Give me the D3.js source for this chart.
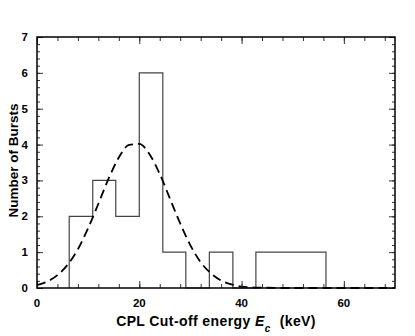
<!DOCTYPE html>
<meta charset="utf-8">
<style>
  body { margin: 0; background: #fff; }
  text { font-family: "Liberation Sans", Arial, sans-serif; font-weight: bold; fill: #000; }
</style>
<body>
<script src="https://d3js.org/d3.v7.min.js"></script>
<script>

// histogram bin edges (keV) and counts per bin
var binEdges = [6.3, 10.9, 15.4, 20.0, 24.6, 29.1, 33.7, 38.3, 42.8, 47.4, 52.0, 56.5];
var binCounts = [2, 3, 2, 6, 1, 0, 1, 0, 1, 1, 1];

// dashed fit curve
var fitE = [0, 2, 4, 6, 8, 10, 12, 14, 16, 18, 20, 22, 24, 26, 28, 30, 32, 34, 36, 38, 40, 42, 44, 48, 55, 70];
var fitN = [0.08, 0.18, 0.36, 0.65, 1.08, 1.67, 2.35, 3.05, 3.64, 3.99, 4.02, 3.73, 3.18, 2.49, 1.80, 1.19, 0.72, 0.41, 0.21, 0.10, 0.04, 0.02, 0.01, 0.0, 0.0, 0.0];

var xTicks = [0, 20, 40, 60];
var yTicks = [0, 1, 2, 3, 4, 5, 6, 7];

var margin = {top: 37, right: 20, bottom: 48, left: 37},
    width = 415 - margin.left - margin.right,
    height = 336 - margin.top - margin.bottom;

var x = d3.scaleLinear().domain([0, 70]).range([0, width]);
var y = d3.scaleLinear().domain([0, 7]).range([height, 0]);

var svg = d3.select("body").append("svg")
    .attr("width", 415)
    .attr("height", 336)
  .append("g")
    .attr("transform", "translate(" + margin.left + "," + margin.top + ")");

// histogram as a step outline
var pts = [];
binCounts.forEach(function(c, i) {
  pts.push([binEdges[i], i == 0 ? 0 : binCounts[i - 1]]);
  pts.push([binEdges[i], c]);
  pts.push([binEdges[i + 1], c]);
});
pts.push([binEdges[binEdges.length - 1], 0]);

svg.append("path")
    .datum(pts)
    .attr("fill", "none")
    .attr("stroke", "#444")
    .attr("stroke-width", 1.2)
    .attr("d", d3.line().x(function(d) { return x(d[0]); }).y(function(d) { return y(d[1]); }));

// dashed fit
svg.append("path")
    .datum(fitE.map(function(e, i) { return [e, fitN[i]]; }))
    .attr("fill", "none")
    .attr("stroke", "#000")
    .attr("stroke-width", 1.8)
    .attr("stroke-dasharray", "9,5")
    .attr("d", d3.line().curve(d3.curveMonotoneX)
        .x(function(d) { return x(d[0]); }).y(function(d) { return y(d[1]); }));

// frame with inward ticks on all sides
var xMinor = d3.range(0, 70.1, 4), yMinor = d3.range(0, 7.01, 0.2);

svg.append("g").attr("transform", "translate(0," + height + ")")
    .call(d3.axisTop(x).tickValues(xMinor).tickSize(4).tickFormat(""));
svg.append("g").attr("transform", "translate(0," + height + ")")
    .call(d3.axisTop(x).tickValues(xTicks).tickSize(7).tickFormat(""));
svg.append("g")
    .call(d3.axisBottom(x).tickValues(xMinor).tickSize(4).tickFormat(""));
svg.append("g")
    .call(d3.axisBottom(x).tickValues(xTicks).tickSize(7).tickFormat(""));
svg.append("g")
    .call(d3.axisRight(y).tickValues(yMinor).tickSize(3).tickFormat(""));
svg.append("g")
    .call(d3.axisRight(y).tickValues(yTicks).tickSize(6).tickFormat(""));
svg.append("g").attr("transform", "translate(" + width + ",0)")
    .call(d3.axisLeft(y).tickValues(yMinor).tickSize(3).tickFormat(""));
svg.append("g").attr("transform", "translate(" + width + ",0)")
    .call(d3.axisLeft(y).tickValues(yTicks).tickSize(6).tickFormat(""));

svg.selectAll(".domain").remove();
svg.selectAll(".tick line").attr("stroke", "#333").attr("stroke-width", 1);

svg.append("rect")
    .attr("width", width).attr("height", height)
    .attr("fill", "none").attr("stroke", "#000").attr("stroke-width", 1.5);

// tick labels
svg.selectAll(".xl").data(xTicks).enter().append("text")
    .attr("x", function(d) { return x(d); })
    .attr("y", height + 19)
    .attr("text-anchor", "middle")
    .style("font-size", "11.5px")
    .text(function(d) { return d; });

svg.selectAll(".yl").data(yTicks).enter().append("text")
    .attr("x", -9)
    .attr("y", function(d) { return y(d) + 4; })
    .attr("text-anchor", "end")
    .style("font-size", "11.5px")
    .text(function(d) { return d; });

// axis titles
var xt = svg.append("text")
    .attr("x", width / 2)
    .attr("y", height + 38)
    .attr("text-anchor", "middle")
    .style("font-size", "14px")
    .style("letter-spacing", "0.4px");
xt.append("tspan").text("CPL Cut-off energy ");
xt.append("tspan").style("font-style", "italic").text("E");
xt.append("tspan").style("font-style", "italic").style("font-size", "10px").attr("dy", 6).text("c");
xt.append("tspan").attr("dy", -6).attr("dx", 9).text("(keV)");

svg.append("text")
    .attr("transform", "translate(-19," + (height / 2 - 2) + ") rotate(-90)")
    .attr("text-anchor", "middle")
    .style("font-size", "13.5px")
    .text("Number of Bursts");

</script>
